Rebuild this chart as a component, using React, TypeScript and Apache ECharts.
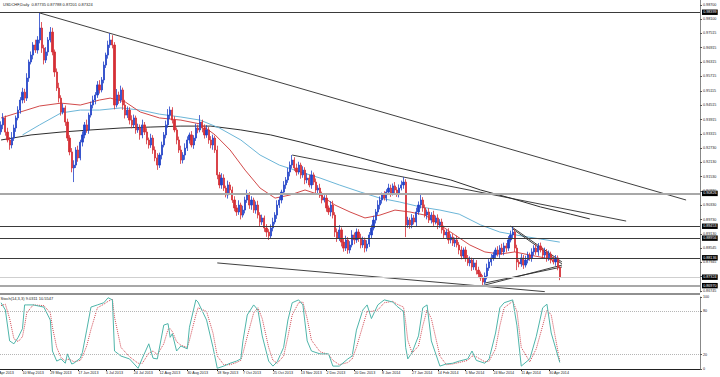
import React, { useEffect, useRef } from "react";
import * as echarts from "echarts";

// ---------- header / meta ----------
const symbolTitle = "USDCHF,Daily";
const lastBar = { open: 0.87735, high: 0.87788, low: 0.87201, close: 0.87324 };
const stochTitle = "Stoch(14,3,3)";
const stochLast = { k: 9.0311, d: 10.5547 };

// ---------- price data (daily bars) ----------
const firstOpen = 0.934;
const closes = [
  0.9369, 0.9398, 0.9339, 0.9306, 0.9285, 0.9314, 0.9356, 0.9398, 0.9431, 0.9473,
  0.9506, 0.9481, 0.9565, 0.9632, 0.9661, 0.9703, 0.9682, 0.9724, 0.9774, 0.969,
  0.964, 0.9674, 0.9724, 0.9757, 0.9674, 0.959, 0.9523, 0.9481, 0.9423, 0.944,
  0.9381, 0.9314, 0.9256, 0.9189, 0.9201, 0.9264, 0.9231, 0.9297, 0.9327, 0.9369,
  0.9348, 0.941, 0.9452, 0.9473, 0.9494, 0.9536, 0.9515, 0.9557, 0.9619, 0.9661,
  0.9703, 0.9724, 0.9703, 0.9452, 0.9494, 0.9473, 0.9515, 0.9452, 0.941, 0.9431,
  0.9389, 0.9369, 0.9398, 0.9348, 0.9356, 0.9327, 0.9369, 0.9339, 0.9306, 0.9285,
  0.9314, 0.9264, 0.9231, 0.9201, 0.9243, 0.9285, 0.9327, 0.9369, 0.941, 0.9431,
  0.9389, 0.9348, 0.9306, 0.9264, 0.9222, 0.9243, 0.9272, 0.9306, 0.9327, 0.9285,
  0.9314, 0.9356, 0.9348, 0.9381, 0.9356, 0.9327, 0.9348, 0.9306, 0.9285, 0.9314,
  0.9264, 0.916, 0.9118, 0.9147, 0.9105, 0.9076, 0.9118, 0.9097, 0.9055, 0.9022,
  0.9005, 0.9034, 0.8992, 0.9013, 0.9055, 0.9076, 0.9034, 0.9055, 0.9013, 0.9034,
  0.8992, 0.8963, 0.898, 0.8938, 0.8921, 0.8905, 0.8938, 0.8963, 0.8992, 0.9034,
  0.9055, 0.9088, 0.9118, 0.9139, 0.9172, 0.9201, 0.9222, 0.9189, 0.9172, 0.9201,
  0.916, 0.918, 0.9139, 0.9147, 0.9118, 0.916, 0.913, 0.9097, 0.9105, 0.9076,
  0.9055, 0.9063, 0.9022, 0.9005, 0.9034, 0.8992, 0.8921, 0.8896, 0.893, 0.8879,
  0.8854, 0.8888, 0.8846, 0.8867, 0.8909, 0.8888, 0.8921, 0.8896, 0.8867, 0.8888,
  0.8854, 0.8871, 0.8909, 0.8938, 0.8971, 0.9005, 0.9034, 0.9055, 0.9076, 0.9063,
  0.9088, 0.9105, 0.9084, 0.9114, 0.9097, 0.908, 0.9105, 0.9118, 0.913, 0.8951,
  0.8971, 0.8951, 0.898, 0.8963, 0.9005, 0.9034, 0.9055, 0.9022, 0.8992, 0.9005,
  0.8971, 0.8992, 0.8963, 0.898, 0.8951, 0.8963, 0.893, 0.8909, 0.8921, 0.8888,
  0.89, 0.8875, 0.8888, 0.8867, 0.8846, 0.8821, 0.8846, 0.8813, 0.8792, 0.8804,
  0.8775, 0.8792, 0.8762, 0.8746, 0.8729, 0.8712, 0.8737, 0.8771, 0.8796, 0.8813,
  0.8825, 0.8846, 0.8829, 0.8854, 0.8838, 0.8863, 0.8854, 0.8888, 0.8909, 0.8921,
  0.8854, 0.8796, 0.8788, 0.8813, 0.8783, 0.8804, 0.8825, 0.8813, 0.8838, 0.8854,
  0.8838, 0.8863, 0.8846, 0.8825, 0.8838, 0.8813, 0.8829, 0.8804, 0.8796, 0.8813,
  0.87735, 0.87324,
];
// shadow lengths in pips above max(open, close) and below min(open, close)
const upperWickPips = [
  15, 20, 10, 18, 12, 25, 14, 10, 16, 12, 18, 14, 20, 10, 15, 12, 22, 16, 63, 25,
  14, 20, 12, 21, 18, 10, 15, 22, 12, 18, 10, 14, 12, 16, 20, 12, 18, 10, 15, 12,
  22, 10, 14, 18, 12, 16, 20, 12, 15, 10, 18, 29, 20, 12, 25, 14, 18, 10, 22, 15,
  12, 20, 14, 10, 18, 15, 22, 12, 16, 10, 18, 12, 15, 20, 10, 14, 12, 18, 25, 15,
  12, 16, 10, 14, 18, 12, 20, 15, 10, 16, 12, 18, 14, 29, 10, 15, 20, 12, 16, 14,
  10, 18, 12, 20, 15, 10, 18, 12, 14, 16, 12, 20, 10, 18, 14, 22, 12, 16, 10, 15,
  18, 12, 14, 10, 16, 12, 15, 18, 12, 20, 14, 10, 16, 12, 18, 15, 21, 12, 18, 14,
  10, 16, 12, 20, 14, 18, 10, 15, 12, 18, 14, 12, 20, 10, 16, 18, 12, 15, 20, 10,
  14, 18, 12, 16, 20, 10, 15, 12, 18, 14, 10, 16, 12, 14, 18, 12, 20, 15, 10, 16,
  12, 18, 14, 10, 16, 12, 15, 18, 21, 12, 14, 10, 16, 12, 18, 15, 21, 12, 14, 10,
  16, 12, 18, 10, 15, 12, 14, 18, 10, 16, 12, 14, 10, 18, 12, 16, 10, 14, 12, 15,
  10, 16, 12, 14, 10, 12, 15, 18, 12, 16, 14, 10, 16, 12, 18, 14, 12, 16, 18, 21,
  12, 14, 10, 16, 12, 18, 14, 10, 15, 12, 16, 12, 14, 10, 18, 12, 15, 10, 14, 12,
  10, 5.3,
];
const lowerWickPips = [
  12, 18, 15, 10, 20, 14, 12, 16, 10, 15, 14, 20, 12, 16, 10, 18, 12, 15, 14, 20,
  18, 12, 16, 10, 14, 20, 12, 18, 15, 10, 16, 12, 14, 18, 59, 12, 16, 10, 18, 14,
  12, 16, 10, 14, 18, 12, 15, 10, 14, 12, 15, 12, 14, 18, 10, 16, 12, 20, 14, 12,
  18, 14, 10, 16, 12, 20, 14, 12, 18, 15, 12, 16, 14, 20, 12, 18, 10, 14, 12, 16,
  14, 10, 18, 12, 16, 14, 20, 12, 15, 10, 16, 12, 14, 10, 18, 15, 12, 16, 14, 20,
  12, 18, 14, 16, 12, 10, 15, 18, 12, 14, 16, 12, 18, 10, 14, 12, 16, 20, 12, 15,
  14, 18, 12, 16, 20, 17, 12, 14, 10, 16, 12, 14, 10, 16, 12, 18, 14, 12, 15, 10,
  16, 12, 18, 14, 10, 16, 12, 15, 18, 12, 14, 10, 16, 12, 18, 14, 20, 16, 12, 18,
  15, 12, 16, 14, 10, 18, 12, 16, 14, 12, 18, 14, 12, 16, 10, 14, 12, 18, 15, 10,
  14, 12, 16, 10, 18, 12, 14, 10, 16, 51, 12, 16, 14, 10, 18, 12, 14, 16, 10, 18,
  12, 14, 16, 10, 18, 12, 15, 14, 12, 16, 14, 12, 16, 10, 18, 14, 12, 16, 12, 14,
  16, 12, 18, 14, 12, 17, 10, 14, 12, 16, 12, 14, 10, 16, 12, 14, 18, 12, 10, 14,
  16, 34, 14, 12, 16, 10, 14, 12, 16, 14, 12, 16, 10, 14, 12, 16, 12, 14, 10, 16,
  12, 12.3,
];

// moving averages, read at sparse bars: [bar, price]
const maRed = [
  [0, 0.9398], [9, 0.9423], [18, 0.9448], [28, 0.946], [37, 0.9452], [46, 0.9473],
  [51, 0.9481], [58, 0.9465], [65, 0.9423], [74, 0.9398], [84, 0.9389], [93, 0.9373],
  [100, 0.9327], [107, 0.9264], [114, 0.918], [121, 0.9105], [128, 0.9063], [135, 0.9076],
  [142, 0.9097], [149, 0.9076], [156, 0.9034], [163, 0.9005], [170, 0.898], [177, 0.8992],
  [184, 0.9013], [191, 0.9005], [198, 0.8992], [205, 0.8951], [212, 0.8909], [219, 0.8867],
  [226, 0.8838], [233, 0.8829], [240, 0.8838], [247, 0.8825], [254, 0.8813], [261, 0.8796],
];
const maBlue = [
  [10, 0.9327], [18, 0.9369], [28, 0.9419], [37, 0.9431], [46, 0.9431], [56, 0.944],
  [65, 0.9431], [74, 0.9414], [84, 0.9402], [93, 0.9389], [102, 0.9356], [112, 0.9306],
  [121, 0.9243], [130, 0.9201], [140, 0.9172], [149, 0.9147], [158, 0.9118], [168, 0.9088],
  [177, 0.9063], [186, 0.9047], [196, 0.9026], [205, 0.9013], [214, 0.8996], [224, 0.8951],
  [233, 0.8921], [243, 0.8905], [252, 0.8892], [261, 0.8879],
];
const maBlack = [
  [0, 0.9306], [14, 0.9327], [28, 0.9339], [42, 0.9348], [56, 0.9356], [70, 0.936],
  [84, 0.9364], [98, 0.9364], [112, 0.9348], [126, 0.9327], [140, 0.9297], [154, 0.9264],
  [168, 0.9231], [182, 0.9197], [196, 0.9168], [210, 0.9139], [224, 0.9097], [238, 0.9063],
  [252, 0.9026], [266, 0.8996], [275, 0.8976],
];

// drawn objects
const trendLines = [
  [[18, 0.9837], [320, 0.9055]],
  [[136, 0.9243], [292, 0.8967]],
  [[101, 0.8792], [254, 0.8672]],
  [[238, 0.8946], [262, 0.8796]],
  [[239, 0.8934], [262, 0.8788]],
  [[224, 0.8695], [262, 0.8783]],
  [[226, 0.8708], [262, 0.8775]],
];
const darkLevels = [0.98399, 0.89453, 0.88956, 0.88136];
const greyLevels = [0.90826, 0.8697];

// stochastic, read at sparse bars: [bar, value]
const stochK = [
  [0, 92], [2, 82], [4, 39], [6, 35], [8, 44], [10, 56], [11, 89], [12, 89], [15, 89], [20, 86],
  [23, 68], [24, 25], [26, 11], [28, 14], [30, 8], [31, 21], [33, 7], [34, 8], [37, 15], [38, 23],
  [40, 54], [42, 86], [45, 89], [48, 92], [50, 99], [52, 96], [53, 25], [56, 18], [60, 14], [64, 1],
  [66, 15], [69, 35], [71, 15], [73, 14], [76, 61], [78, 63], [79, 44], [80, 49], [82, 25], [84, 32],
  [87, 28], [88, 58], [91, 96], [92, 93], [96, 68], [99, 30], [101, 1], [104, 4], [107, 8], [110, 11],
  [112, 14], [113, 39], [115, 75], [118, 89], [120, 82], [122, 46], [125, 11], [127, 4], [129, 10], [132, 30],
  [134, 68], [136, 92], [139, 96], [141, 89], [143, 39], [145, 25], [149, 21], [153, 21], [155, 4], [158, 4],
  [162, 14], [164, 18], [166, 54], [169, 82], [171, 89], [173, 70], [176, 89], [179, 96], [183, 93], [185, 87],
  [188, 80], [189, 30], [190, 14], [192, 23], [195, 46], [197, 85], [199, 89], [201, 39], [205, 4], [208, 7],
  [211, 8], [214, 11], [218, 14], [220, 25], [222, 12], [226, 8], [228, 14], [231, 50], [233, 85], [235, 92],
  [239, 96], [241, 60], [243, 4], [247, 14], [250, 45], [253, 85], [255, 90], [257, 50], [261, 9.03],
];
const stochD = [
  [0, 88], [2, 90], [4, 70], [6, 42], [8, 38], [10, 45], [11, 60], [12, 78], [15, 89], [20, 88],
  [23, 78], [24, 58], [26, 30], [28, 16], [30, 11], [31, 14], [33, 12], [34, 10], [37, 12], [38, 17],
  [40, 32], [42, 55], [45, 85], [48, 90], [50, 94], [52, 97], [53, 72], [56, 30], [60, 17], [64, 8],
  [66, 8], [69, 22], [71, 25], [73, 20], [76, 35], [78, 55], [79, 56], [80, 52], [82, 38], [84, 33],
  [87, 30], [88, 40], [91, 75], [92, 85], [96, 80], [99, 50], [101, 18], [104, 6], [107, 6], [110, 9],
  [112, 12], [113, 22], [115, 45], [118, 78], [120, 85], [122, 70], [125, 30], [127, 12], [129, 8], [132, 18],
  [134, 45], [136, 75], [139, 92], [141, 93], [143, 70], [145, 40], [149, 24], [153, 20], [155, 12], [158, 6],
  [162, 9], [164, 14], [166, 30], [169, 60], [171, 80], [173, 80], [176, 82], [179, 92], [183, 94], [185, 90],
  [188, 86], [189, 65], [190, 40], [192, 22], [195, 32], [197, 60], [199, 82], [201, 70], [205, 18], [208, 6],
  [211, 7], [214, 9], [218, 12], [220, 18], [222, 17], [226, 10], [228, 11], [231, 28], [233, 60], [235, 85],
  [239, 94], [241, 80], [243, 30], [247, 10], [250, 28], [253, 60], [255, 82], [257, 75], [261, 10.55],
];
const stochLevels = [20, 80];

// axes
const slotCount = 327;
const priceTicks = [
  0.86745, 0.87345, 0.87945, 0.88545, 0.8913, 0.8973, 0.9033, 0.9093, 0.9153, 0.9213, 0.9273,
  0.93315, 0.93915, 0.94515, 0.95115, 0.95715, 0.96315, 0.96915, 0.97515, 0.981, 0.987,
];
const stochTicks = [0, 20, 80, 100];
const xTickIdx = [10, 23, 36, 49, 62, 74, 87, 101, 113, 127, 140, 152, 165, 178, 192, 204, 217, 230, 243, 256];
const xTickText = [
  "10 May 2013", "29 May 2013", "17 Jun 2013", "5 Jul 2013", "24 Jul 2013", "12 Aug 2013",
  "30 Aug 2013", "18 Sep 2013", "7 Oct 2013", "25 Oct 2013", "13 Nov 2013", "2 Dec 2013",
  "20 Dec 2013", "8 Jan 2014", "27 Jan 2014", "14 Feb 2014", "5 Mar 2014", "24 Mar 2014",
  "11 Apr 2014", "30 Apr 2014",
];
const cutTickText = "23 Apr 2013";

const FONT = "'Liberation Sans', Arial, sans-serif";
const BULL = "#2343c8";
const BEAR = "#d42f36";

export default function App() {
  const ref = useRef<HTMLDivElement>(null);
  useEffect(() => {
    document.body.style.margin = "0";
    const chart = echarts.init(ref.current as HTMLDivElement, null, { renderer: "svg" });

    const opens = closes.map((c, i) => (i === 0 ? firstOpen : closes[i - 1]));
    const candleData = closes.map((c, i) => {
      const hi = Math.max(opens[i], c) + upperWickPips[i] / 10000;
      const lo = Math.min(opens[i], c) - lowerWickPips[i] / 10000;
      return [opens[i], c, lo, hi];
    });
    const slots = Array.from({ length: slotCount }, (_, i) => String(i));
    const tickMap = new Map<number, string>(xTickIdx.map((b, j) => [b, xTickText[j]]));
    const txt = { fontSize: 3.7, color: "#222", fontFamily: FONT };
    const lvlLabel = {
      show: true,
      position: "end",
      distance: 2,
      formatter: (p: any) => Number(p.value).toFixed(5),
      backgroundColor: "#000",
      color: "#fff",
      fontSize: 3.7,
      fontFamily: FONT,
      padding: [0.8, 1.2, 0.6, 1.2],
    };

    const lineSeries = (data: number[][], color: string, width: number, type: string = "solid", xi = 0) => ({
      type: "line",
      xAxisIndex: xi,
      yAxisIndex: xi,
      data,
      symbol: "none",
      silent: true,
      smooth: false,
      lineStyle: { color, width, type },
      z: 3,
    });

    const option: any = {
      animation: false,
      backgroundColor: "#ffffff",
      grid: [
        { left: 0, top: 0, width: 700, height: 292 },
        { left: 0, top: 297, width: 700, height: 72 },
      ],
      xAxis: [
        {
          type: "category",
          gridIndex: 0,
          data: slots,
          axisLine: { show: false },
          axisTick: { show: false },
          axisLabel: { show: false },
          splitLine: { show: false },
        },
        {
          type: "category",
          gridIndex: 1,
          data: slots,
          axisLine: { show: true, lineStyle: { color: "#222", width: 1 } },
          axisTick: {
            show: true,
            alignWithLabel: true,
            interval: (i: number) => tickMap.has(i),
            length: 2,
            lineStyle: { color: "#222" },
          },
          axisLabel: {
            interval: (i: number) => tickMap.has(i),
            formatter: (_v: string, i: number) => tickMap.get(i) ?? "",
            align: "left",
            margin: 2,
            ...txt,
          },
          splitLine: { show: false },
        },
      ],
      yAxis: [
        {
          type: "value",
          gridIndex: 0,
          position: "right",
          min: 0.86705,
          max: 0.98911,
          axisLine: { show: true, lineStyle: { color: "#888" } },
          axisTick: { show: true, length: 2, customValues: priceTicks, lineStyle: { color: "#555" } },
          axisLabel: { customValues: priceTicks, formatter: (v: number) => v.toFixed(5), margin: 3, ...txt },
          splitLine: { show: false },
        },
        {
          type: "value",
          gridIndex: 1,
          position: "right",
          min: 0,
          max: 100,
          axisLine: { show: true, lineStyle: { color: "#888" } },
          axisTick: { show: true, length: 2, customValues: stochTicks, lineStyle: { color: "#555" } },
          axisLabel: { customValues: stochTicks, formatter: (v: number) => String(v), margin: 3, ...txt },
          splitLine: { show: false },
        },
      ],
      series: [
        {
          type: "candlestick",
          xAxisIndex: 0,
          yAxisIndex: 0,
          data: candleData,
          barWidth: 1.7,
          silent: true,
          z: 4,
          itemStyle: { color: BULL, color0: BEAR, borderColor: BULL, borderColor0: BEAR, borderWidth: 0.8 },
          markLine: {
            silent: true,
            precision: 5,
            symbol: ["none", "none"],
            z: 10,
            data: [
              ...darkLevels.map((v) => ({ yAxis: v, lineStyle: { color: "#3a3a3a", width: 1, type: "solid" }, label: lvlLabel })),
              ...greyLevels.map((v) => ({ yAxis: v, lineStyle: { color: "#a8a8a8", width: 2, type: "solid" }, label: lvlLabel })),
              { yAxis: lastBar.close, lineStyle: { color: "#cfcfcf", width: 1, type: "solid" }, label: lvlLabel },
            ],
          },
        },
        lineSeries(maBlack, "#2e2e2e", 1),
        lineSeries(maBlue, "#6cb6d8", 1),
        lineSeries(maRed, "#d24a4a", 1),
        ...trendLines.map((t) => lineSeries(t, "#2a2a2a", 0.9)),
        {
          ...lineSeries(stochD, "#d04852", 1, "dotted", 1),
        },
        {
          ...lineSeries(stochK, "#4fb5aa", 1, "solid", 1),
          markLine: {
            silent: true,
            precision: 2,
            symbol: ["none", "none"],
            label: { show: false },
            lineStyle: { color: "#b5b5b5", width: 1, type: "dotted" },
            data: stochLevels.map((v) => ({ yAxis: v })),
          },
        },
      ],
      graphic: [
        {
          type: "line",
          silent: true,
          shape: { x1: 0, y1: 294, x2: 700, y2: 294 },
          style: { stroke: "#222", lineWidth: 1.2 },
        },
        {
          type: "text",
          silent: true,
          x: 3,
          y: 2,
          style: {
            text: `${symbolTitle}  ${lastBar.open.toFixed(5)} ${lastBar.high.toFixed(5)} ${lastBar.low.toFixed(5)} ${lastBar.close.toFixed(5)}`,
            fontSize: 4,
            fill: "#222",
            fontFamily: FONT,
          },
        },
        {
          type: "text",
          silent: true,
          x: 0.5,
          y: 296,
          style: {
            text: `${stochTitle} ${stochLast.k.toFixed(4)} ${stochLast.d.toFixed(4)}`,
            fontSize: 4,
            fill: "#222",
            fontFamily: FONT,
          },
        },
        {
          type: "text",
          silent: true,
          x: -6,
          y: 371,
          style: { text: cutTickText, fontSize: 3.7, fill: "#222", fontFamily: FONT },
        },
      ],
    };

    chart.setOption(option);
    return () => chart.dispose();
  }, []);

  return <div ref={ref} style={{ width: 720, height: 377, overflow: "hidden", background: "#fff" }} />;
}
